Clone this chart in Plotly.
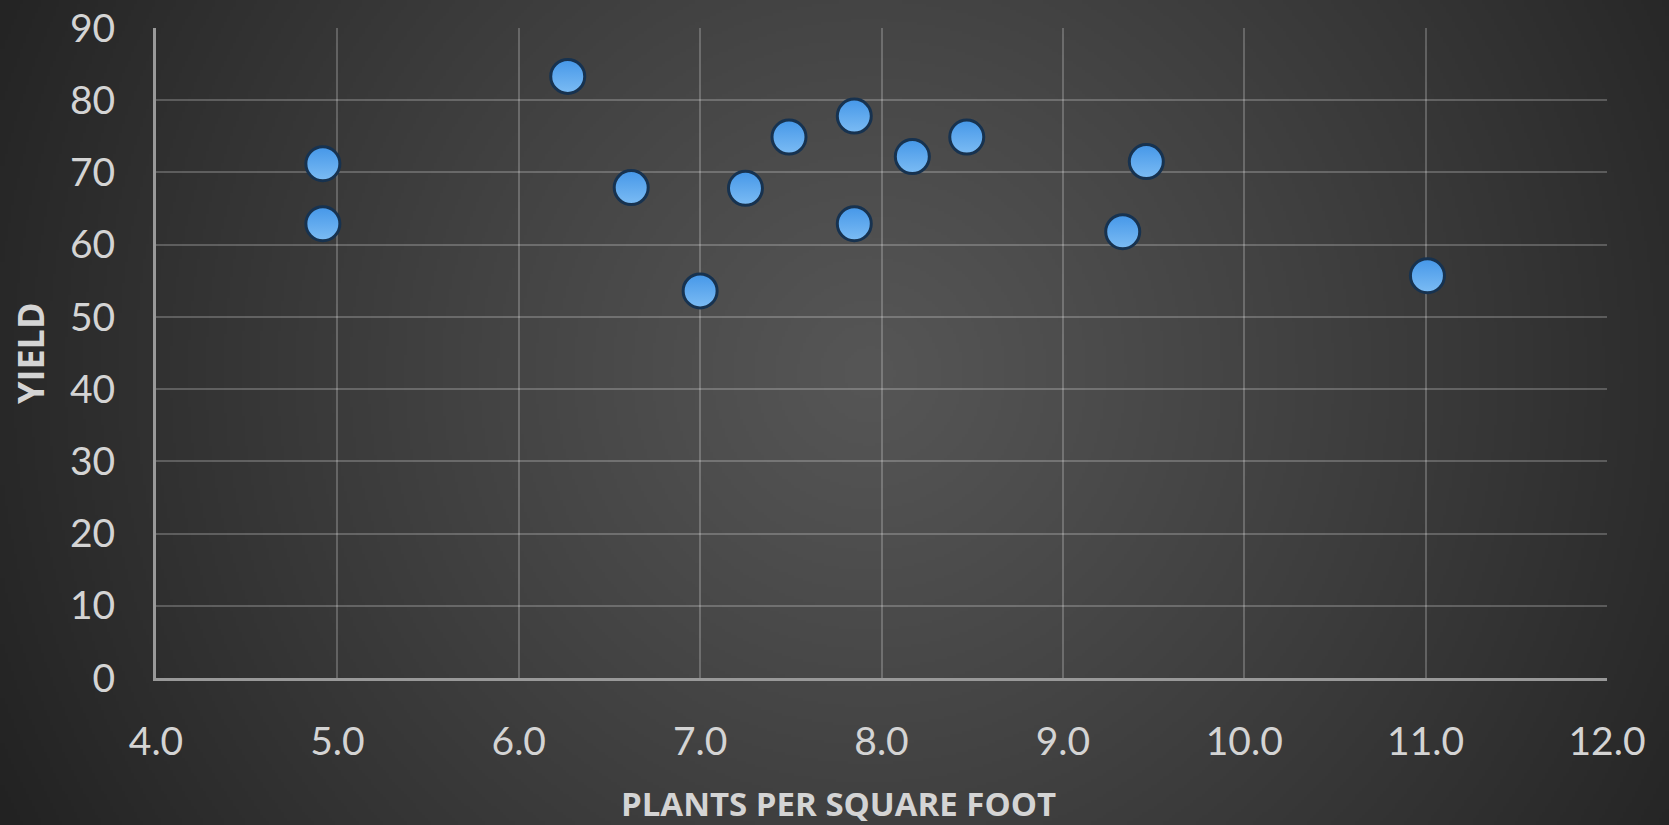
import base64
import struct
import zlib

import numpy as np
import plotly.graph_objects as go

# ---- data ----
plants_per_sqft = [4.92, 4.92, 6.27, 6.62, 7.00, 7.25, 7.49, 7.85, 7.85, 8.17, 8.47, 9.33, 9.46, 11.01]
yield_values = [71.2, 62.9, 83.3, 67.9, 53.6, 67.8, 74.9, 77.8, 62.9, 72.2, 74.9, 61.8, 71.5, 55.7]

x_title = "PLANTS PER SQUARE FOOT"
y_title = "YIELD"

W, H = 1669, 825
L, R, T, B = 156, 62, 28, 147

# ---- radial gradient background as a PNG (pure python encoder) ----
def png_gray(arr):
    h, w = arr.shape
    raw = b"".join(b"\x00" + arr[i].tobytes() for i in range(h))

    def chunk(tag, data):
        c = struct.pack(">I", len(data)) + tag + data
        return c + struct.pack(">I", zlib.crc32(tag + data) & 0xFFFFFFFF)

    ihdr = struct.pack(">IIBBBBB", w, h, 8, 0, 0, 0, 0)
    return (b"\x89PNG\r\n\x1a\n" + chunk(b"IHDR", ihdr)
            + chunk(b"IDAT", zlib.compress(raw, 9)) + chunk(b"IEND", b""))

gw, gh = W // 3, H // 3
yy, xx = np.mgrid[0:gh, 0:gw]
cx, cy = gw * 0.52, gh * 0.45
r = np.sqrt((xx - cx) ** 2 + (yy - cy) ** 2) / np.sqrt(cx ** 2 + cy ** 2)
c_center, c_edge = 86, 36
img = np.clip(c_center - (c_center - c_edge) * r ** 1.1, 0, 255).astype(np.uint8)
bg_src = "data:image/png;base64," + base64.b64encode(png_gray(img)).decode()

pw, ph = W - L - R, H - T - B

fig = go.Figure()
fig.add_trace(go.Scatter(
    x=plants_per_sqft, y=yield_values, mode="markers",
    marker=dict(size=34, color="#4597e8",
                gradient=dict(type="vertical", color="#7cbcf4"),
                line=dict(color="#17324f", width=3)),
    showlegend=False, hoverinfo="x+y",
))

tick_font = dict(family="Lato, Open Sans, sans-serif", size=39, color="#d4d4d4")
title_family = "Open Sans, Lato, sans-serif"

fig.update_layout(
    width=W, height=H,
    margin=dict(l=L, r=R, t=T, b=B, autoexpand=False),
    paper_bgcolor="#2e2e2e",
    plot_bgcolor="rgba(0,0,0,0)",
    images=[dict(source=bg_src, xref="paper", yref="paper",
                 x=-L / pw, y=1 + T / ph, sizex=W / pw, sizey=H / ph,
                 sizing="stretch", xanchor="left", yanchor="top", layer="below")],
    xaxis=dict(range=[4, 12], dtick=1, tick0=4, tickformat=".1f",
               showgrid=True, gridcolor="rgba(255,255,255,0.22)", gridwidth=1.5,
               showline=True, linecolor="#999999", linewidth=3,
               zeroline=False, ticks="outside", ticklen=27,
               tickcolor="rgba(0,0,0,0)", tickfont=tick_font, fixedrange=True,
               automargin=False),
    yaxis=dict(range=[0, 90], dtick=10, tick0=0,
               showgrid=True, gridcolor="rgba(255,255,255,0.22)", gridwidth=1.5,
               showline=True, linecolor="#999999", linewidth=3,
               zeroline=False, ticks="outside", ticklen=30,
               tickcolor="rgba(0,0,0,0)", tickfont=tick_font, fixedrange=True,
               automargin=False),
    annotations=[
        dict(text=f"<b>{x_title}</b>", xref="paper", yref="paper",
             x=(838 - L) / pw, y=-(803 - (T + ph)) / ph, showarrow=False,
             xanchor="center", yanchor="middle",
             font=dict(family=title_family, size=33, color="#d4d4d4")),
        dict(text=f"<b>{y_title}</b>", xref="paper", yref="paper",
             x=(30 - L) / pw, y=0.5, showarrow=False, textangle=-90,
             xanchor="center", yanchor="middle",
             font=dict(family=title_family, size=36, color="#d4d4d4")),
    ],
)

fig.write_html(
    "out.html",
    config={"displayModeBar": False},
    post_script="document.body.style.margin='0';document.body.style.overflow='hidden';",
)
